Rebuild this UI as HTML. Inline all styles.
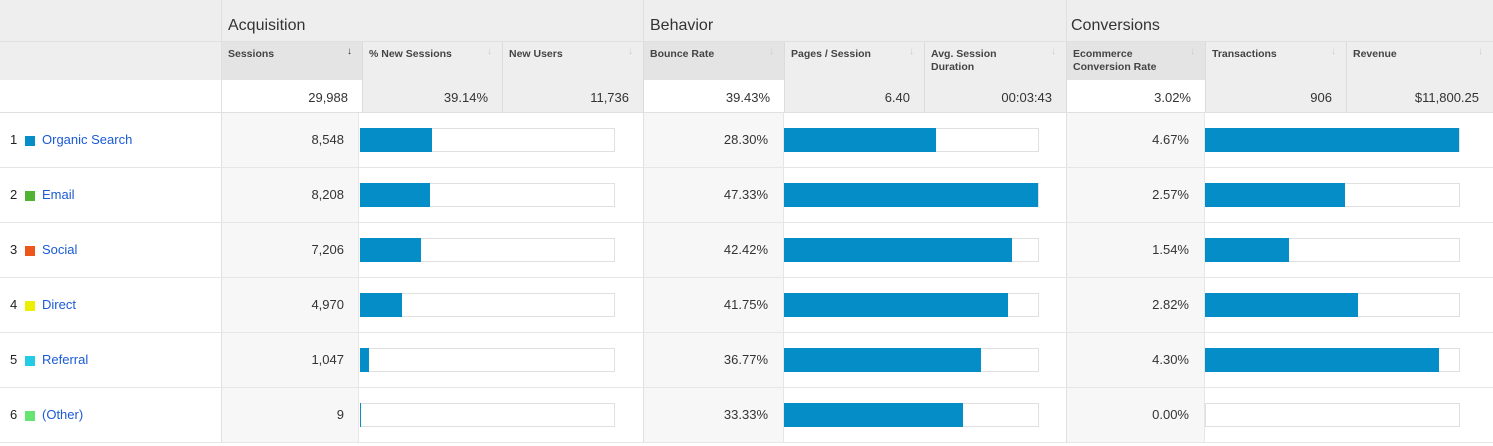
<!DOCTYPE html>
<html><head><meta charset="utf-8"><style>
body{margin:0;width:1493px;height:446px;background:#fff;font-family:"Liberation Sans",Arial,sans-serif;position:relative;overflow:hidden;color:#333}
div{position:absolute;box-sizing:border-box}
.grp{font-size:16px;color:#333}
.ch{font-size:10.5px;font-weight:bold;color:#444;line-height:13px}
.arr{font-size:10px;color:#ccc}
.v{font-size:13px;color:#333;text-align:right}
.lnk{font-size:13px;color:#1a5ad6}
</style></head><body>
<div style="left:0;top:0;width:1493px;height:80px;background:#eeeeee"></div>
<div style="left:221px;top:42px;width:141px;height:38px;background:#e4e4e4"></div>
<div style="left:643px;top:42px;width:141px;height:38px;background:#e4e4e4"></div>
<div style="left:1066px;top:42px;width:139px;height:38px;background:#e4e4e4"></div>
<div style="left:362px;top:80px;width:281px;height:32px;background:#eeeeee"></div>
<div style="left:784px;top:80px;width:282px;height:32px;background:#eeeeee"></div>
<div style="left:1205px;top:80px;width:288px;height:32px;background:#eeeeee"></div>
<div class="grp" style="left:228px;top:17px">Acquisition</div>
<div class="grp" style="left:650px;top:17px">Behavior</div>
<div class="grp" style="left:1071px;top:17px">Conversions</div>
<div id="root"></div>
<script>
const channels=["Organic Search","Email","Social","Direct","Referral","(Other)"];
const swatches=["#058dc7","#50b432","#ed561b","#edef00","#24cbe5","#64e572"];
const sessions=[8548,8208,7206,4970,1047,9];
const sessionsTotal=29988;
const bounce=[28.30,47.33,42.42,41.75,36.77,33.33];
const ecom=[4.67,2.57,1.54,2.82,4.30,0.00];
const transactions=[266,147,88,160,245,0];
const headers=["Sessions","% New Sessions","New Users","Bounce Rate","Pages / Session","Avg. Session<br>Duration","Ecommerce<br>Conversion Rate","Transactions","Revenue"];
const totals=["29,988","39.14%","11,736","39.43%","6.40","00:03:43","3.02%","906","$11,800.25"];
const colX=[221,362,502,643,784,924,1066,1205,1346,1493];
const body=document.body;
function mk(name,inter,style,html,cls){const d=document.createElement('div');


d.style.cssText=style;if(cls)d.className=cls;if(html!==undefined)d.innerHTML=html;body.appendChild(d);return d;}
// vertical group separators
[221,643,1066].forEach((x,i)=>mk('group-divider','false',`left:${x}px;top:0;width:1px;height:442px;background:#e0e0e0`));
// column headers + totals
headers.forEach((h,i)=>{const x=colX[i],w=colX[i+1]-x;
if(i>0)mk('column-divider','false',`left:${x}px;top:42px;width:1px;height:70px;background:#dcdcdc`);
mk('column-header','true',`left:${x+7}px;top:48px;width:${w-30}px`,h,'ch');
mk('sort-arrow','true',`left:${x+w-15}px;top:46px;${i==0?'color:#333':''}`,'↓','arr');
mk('total-value','false',`left:${x}px;top:90px;width:${w-14}px`,totals[i],'v');});
mk('header-line','false',`left:0;top:41px;width:1493px;height:1px;background:#e0e0e0`);
mk('totals-line','false',`left:0;top:112px;width:1493px;height:1px;background:#e0e0e0`);
const maxB=Math.max(...bounce),maxT=Math.max(...transactions);
function bar(name,x,y,frac){mk(name+'-track','false',`left:${x}px;top:${y}px;width:255px;height:24px;border:1px solid #e0e0e0;background:#fff`);
mk(name,'false',`left:${x}px;top:${y}px;width:${Math.max(frac*254,frac>0?1:0)}px;height:24px;background:#058dc7`);}
channels.forEach((c,i)=>{const y=112+i*55;
mk('row-line','false',`left:0;top:${y+55}px;width:1493px;height:1px;background:#e6e6e6`);
mk('sessions-cell','false',`left:222px;top:${y+1}px;width:137px;height:54px;background:#f7f7f7;border-right:1px solid #e6e6e6`);
mk('bounce-cell','false',`left:644px;top:${y+1}px;width:140px;height:54px;background:#f7f7f7;border-right:1px solid #e6e6e6`);
mk('ecom-cell','false',`left:1067px;top:${y+1}px;width:138px;height:54px;background:#f7f7f7;border-right:1px solid #e6e6e6`);
mk('row-index','false',`left:10px;top:${y+20}px;font-size:13px;color:#222`,String(i+1));
mk('legend-swatch','false',`left:25px;top:${y+24}px;width:10px;height:10px;background:${swatches[i]}`);
mk('channel-link','true',`left:42px;top:${y+20}px`,c,'lnk');
mk('sessions-value','false',`left:222px;top:${y+20}px;width:122px`,sessions[i].toLocaleString('en-US'),'v');
bar('sessions-bar',360,y+16,sessions[i]/sessionsTotal);
mk('bounce-value','false',`left:644px;top:${y+20}px;width:124px`,bounce[i].toFixed(2)+'%','v');
bar('bounce-bar',784,y+16,bounce[i]/maxB);
mk('ecom-value','false',`left:1067px;top:${y+20}px;width:122px`,ecom[i].toFixed(2)+'%','v');
bar('transactions-bar',1205,y+16,transactions[i]/maxT);});
</script>
</body></html>
